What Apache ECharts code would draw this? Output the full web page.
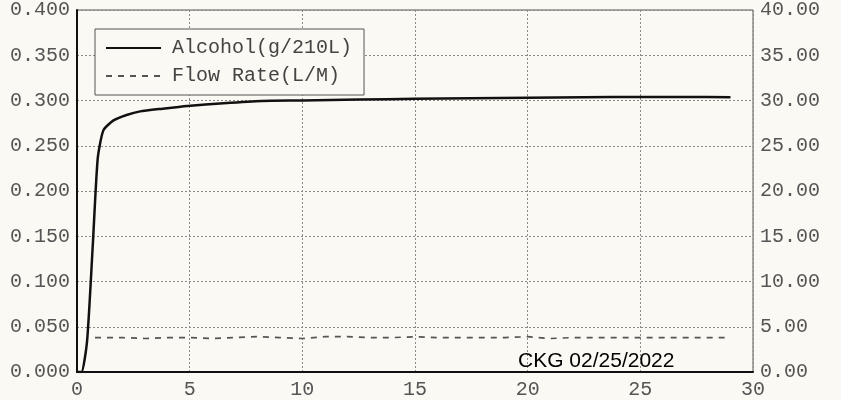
<!DOCTYPE html>
<html>
<head>
<meta charset="utf-8">
<script src="https://cdn.jsdelivr.net/npm/echarts@6/dist/echarts.min.js"></script>
<style>
  html, body { margin: 0; padding: 0; background: #fbf9f3; }
  #chart { width: 841px; height: 400px; }
</style>
</head>
<body>
<div id="chart"></div>
<script>
// alcohol curve (g/210L) vs time
const alcoholTime = [0, 0.2, 0.45, 0.7, 0.92, 1.17, 1.62, 2.2, 2.8, 3.8, 4.9, 6.5, 8.2, 10, 12.5, 15, 17.5, 20, 22.5, 25, 27, 29];
const alcoholValues = [0, 0, 0.035, 0.14, 0.236, 0.267, 0.278, 0.284, 0.288, 0.291, 0.294, 0.297, 0.2995, 0.300, 0.301, 0.302, 0.3025, 0.303, 0.3035, 0.304, 0.304, 0.3035];
// flow rate (L/M) vs time
const flowTime = [0.8, 2, 3, 4, 5, 6, 7, 8, 9, 10, 11, 12, 13, 14, 15, 16, 17, 18, 19, 20, 21, 22, 23, 24, 25, 26, 27, 28.8];
const flowValues = [3.8, 3.8, 3.7, 3.8, 3.8, 3.7, 3.8, 3.9, 3.8, 3.7, 3.9, 3.9, 3.8, 3.8, 3.9, 3.8, 3.8, 3.8, 3.8, 3.9, 3.7, 3.8, 3.8, 3.8, 3.8, 3.8, 3.8, 3.8];
const xTicks = [0, 5, 10, 15, 20, 25, 30];

const chart = echarts.init(document.getElementById("chart"));
const labelFont = "Liberation Mono";
const gridLine = { show: true, lineStyle: { color: "#8a8a8a", type: [2, 2], width: 1 } };

chart.setOption({
  backgroundColor: "#fbf9f3",
  animation: false,
  grid: {
    left: 77,
    right: 88,
    top: 10,
    bottom: 25,
    show: true,
    borderColor: "#555",
    borderWidth: 1,
  },
  legend: {
    orient: "vertical",
    left: 95,
    top: 29,
    padding: [9, 12, 9, 10],
    itemWidth: 55,
    itemHeight: 14,
    itemGap: 8,
    borderColor: "#555",
    borderWidth: 1,
    backgroundColor: "#fbf9f3",
    itemStyle: { opacity: 0 },
    textStyle: {
      fontFamily: labelFont,
      fontSize: 20,
      color: "#444",
      padding: [0, 0, 0, 6],
    },
    data: ["Alcohol(g/210L)", "Flow Rate(L/M)"],
  },
  xAxis: {
    type: "value",
    min: 0,
    max: 30,
    interval: 5,
    axisLine: { show: true, lineStyle: { color: "#111", width: 2 } },
    axisTick: { show: false },
    axisLabel: {
      fontFamily: labelFont,
      fontSize: 20,
      color: "#555",
      margin: 8,
      formatter: (v) => (xTicks.includes(v) ? String(v) : ""),
    },
    splitLine: gridLine,
  },
  yAxis: [
    {
      type: "value",
      min: 0,
      max: 0.4,
      interval: 0.05,
      axisLine: { show: true, lineStyle: { color: "#111", width: 2 } },
      axisTick: { show: false },
      axisLabel: {
        fontFamily: labelFont,
        fontSize: 20,
        color: "#555",
        margin: 7,
        formatter: (v) => v.toFixed(3),
      },
      splitLine: gridLine,
    },
    {
      type: "value",
      min: 0,
      max: 40,
      interval: 5,
      position: "right",
      axisLine: { show: false },
      axisTick: { show: false },
      axisLabel: {
        fontFamily: labelFont,
        fontSize: 20,
        color: "#555",
        margin: 7,
        formatter: (v) => v.toFixed(2),
      },
      splitLine: { show: false },
    },
  ],
  series: [
    {
      name: "Alcohol(g/210L)",
      type: "line",
      yAxisIndex: 0,
      symbol: "none",
      smooth: 0.2,
      data: alcoholTime.map((t, i) => [t, alcoholValues[i]]),
      lineStyle: { color: "#111", width: 2.5 },
      itemStyle: { color: "#111" },
      z: 5,
    },
    {
      name: "Flow Rate(L/M)",
      type: "line",
      yAxisIndex: 1,
      symbol: "none",
      data: flowTime.map((t, i) => [t, flowValues[i]]),
      lineStyle: { color: "#555", width: 1.7, type: [6, 6] },
      itemStyle: { color: "#555" },
      z: 4,
    },
  ],
  graphic: [
    {
      type: "text",
      left: 518,
      top: 351,
      style: {
        text: "CKG 02/25/2022",
        font: "21px 'Liberation Sans'",
        fill: "#000",
      },
      z: 10,
    },
  ],
});
</script>
</body>
</html>
